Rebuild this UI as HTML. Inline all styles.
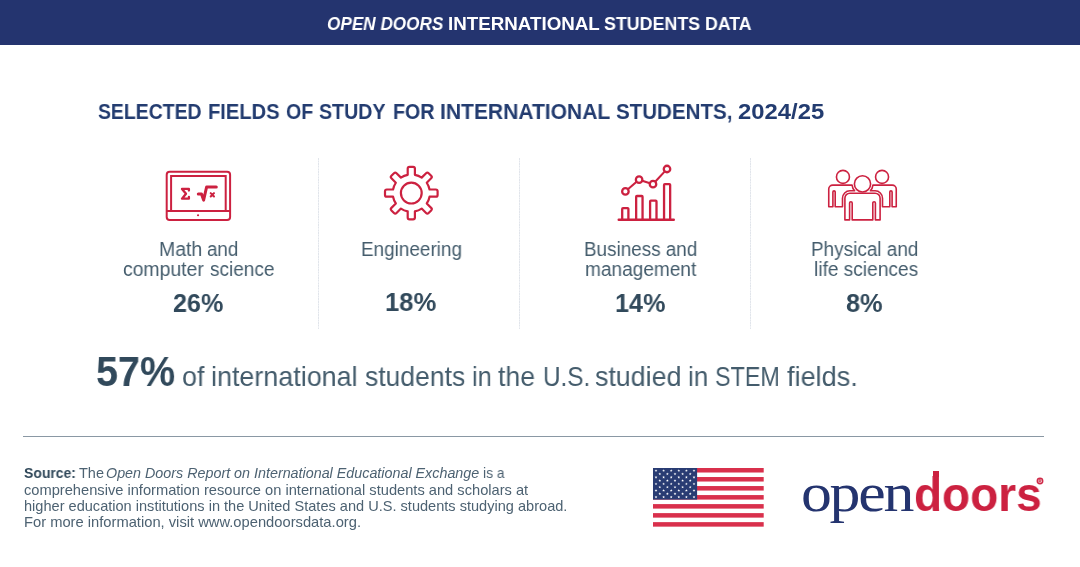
<!DOCTYPE html>
<html>
<head>
<meta charset="utf-8">
<title>Open Doors International Students Data</title>
<style>
  html, body { margin: 0; padding: 0; }
  body {
    width: 1080px; height: 567px; overflow: hidden; position: relative;
    background: #ffffff;
    font-family: "Liberation Sans", sans-serif;
  }
  .abs { position: absolute; white-space: nowrap; }
  #hdr { left: 0; top: 0; width: 1080px; height: 44.5px; background: #24346f; }
  .div { position: absolute; top: 158px; height: 170.5px; width: 1.4px; margin-left: -0.7px; background: repeating-linear-gradient(to bottom, #e1e5eb 0, #e1e5eb 1.5px, #eef0f4 1.5px, #eef0f4 2.65px); }
  #rule { left: 23px; top: 436px; width: 1020.8px; height: 1.3px; background: #8a98a4; }
  .t { position: absolute; white-space: nowrap; transform-origin: 0 0; will-change: transform; }
  svg { position: absolute; overflow: visible; }
</style>
</head>
<body>
  <div id="hdr" class="abs"></div>
  <!-- TEXT-BEGIN -->
  <div class="t" id="h1" style="left:326.62px;top:12.50px;font-size:18.3px;line-height:21.96px;font-weight:700;font-style:italic;color:#ffffff;transform:scaleX(0.9387)">OPEN DOORS</div>
  <div class="t" id="h2" style="left:447.58px;top:12.50px;font-size:18.3px;line-height:21.96px;font-weight:700;font-style:normal;color:#ffffff;transform:scaleX(1.0262)">INTERNATIONAL</div>
  <div class="t" id="h3" style="left:604.24px;top:12.50px;font-size:18.3px;line-height:21.96px;font-weight:700;font-style:normal;color:#ffffff;transform:scaleX(0.9756)">STUDENTS</div>
  <div class="t" id="h4" style="left:705.15px;top:12.50px;font-size:18.3px;line-height:21.96px;font-weight:700;font-style:normal;color:#ffffff;transform:scaleX(0.9694)">DATA</div>
  <div class="t" id="t1" style="left:97.54px;top:98.60px;font-size:22.3px;line-height:26.76px;font-weight:700;font-style:normal;color:#233c70;transform:scaleX(0.8707)">SELECTED</div>
  <div class="t" id="t2" style="left:207.84px;top:98.60px;font-size:22.3px;line-height:26.76px;font-weight:700;font-style:normal;color:#233c70;transform:scaleX(0.9022)">FIELDS</div>
  <div class="t" id="t3" style="left:286.06px;top:98.60px;font-size:22.3px;line-height:26.76px;font-weight:700;font-style:normal;color:#233c70;transform:scaleX(0.8820)">OF</div>
  <div class="t" id="t4" style="left:319.03px;top:98.60px;font-size:22.3px;line-height:26.76px;font-weight:700;font-style:normal;color:#233c70;transform:scaleX(0.8800)">STUDY</div>
  <div class="t" id="t5" style="left:393.47px;top:98.60px;font-size:22.3px;line-height:26.76px;font-weight:700;font-style:normal;color:#233c70;transform:scaleX(0.8817)">FOR</div>
  <div class="t" id="t6" style="left:440.48px;top:98.60px;font-size:22.3px;line-height:26.76px;font-weight:700;font-style:normal;color:#233c70;transform:scaleX(0.9437)">INTERNATIONAL</div>
  <div class="t" id="t7" style="left:616.30px;top:98.60px;font-size:22.3px;line-height:26.76px;font-weight:700;font-style:normal;color:#233c70;transform:scaleX(0.9212)">STUDENTS,</div>
  <div class="t" id="t8" style="left:738.49px;top:98.60px;font-size:22.3px;line-height:26.76px;font-weight:700;font-style:normal;color:#233c70;transform:scaleX(1.0688)">2024/25</div>
  <div class="t" id="l1a" style="left:158.59px;top:236.80px;font-size:20px;line-height:24.00px;font-weight:400;font-style:normal;color:#445c6c;transform:scaleX(0.9742)">Math</div>
  <div class="t" id="l1b" style="left:206.64px;top:236.80px;font-size:20px;line-height:24.00px;font-weight:400;font-style:normal;color:#445c6c;transform:scaleX(0.9389)">and</div>
  <div class="t" id="l1c" style="left:122.93px;top:256.90px;font-size:20px;line-height:24.00px;font-weight:400;font-style:normal;color:#445c6c;transform:scaleX(0.9692)">computer</div>
  <div class="t" id="l1d" style="left:209.50px;top:256.90px;font-size:20px;line-height:24.00px;font-weight:400;font-style:normal;color:#445c6c;transform:scaleX(0.9498)">science</div>
  <div class="t" id="l2" style="left:361.04px;top:236.80px;font-size:20px;line-height:24.00px;font-weight:400;font-style:normal;color:#445c6c;transform:scaleX(0.9454)">Engineering</div>
  <div class="t" id="l3a" style="left:583.64px;top:236.80px;font-size:20px;line-height:24.00px;font-weight:400;font-style:normal;color:#445c6c;transform:scaleX(0.9432)">Business and</div>
  <div class="t" id="l3b" style="left:584.56px;top:256.90px;font-size:20px;line-height:24.00px;font-weight:400;font-style:normal;color:#445c6c;transform:scaleX(0.9529)">management</div>
  <div class="t" id="l4a" style="left:811.23px;top:236.80px;font-size:20px;line-height:24.00px;font-weight:400;font-style:normal;color:#445c6c;transform:scaleX(0.9469)">Physical and</div>
  <div class="t" id="l4b" style="left:813.90px;top:256.90px;font-size:20px;line-height:24.00px;font-weight:400;font-style:normal;color:#445c6c;transform:scaleX(0.9563)">life sciences</div>
  <div class="t" id="p1" style="left:173.22px;top:288.00px;font-size:26.2px;line-height:31.44px;font-weight:700;font-style:normal;color:#31495b;transform:scaleX(0.9584)">26%</div>
  <div class="t" id="p2" style="left:385.18px;top:286.80px;font-size:26.2px;line-height:31.44px;font-weight:700;font-style:normal;color:#31495b;transform:scaleX(0.9764)">18%</div>
  <div class="t" id="p3" style="left:614.81px;top:288.00px;font-size:26.2px;line-height:31.44px;font-weight:700;font-style:normal;color:#31495b;transform:scaleX(0.9605)">14%</div>
  <div class="t" id="p4" style="left:846.24px;top:288.00px;font-size:26.2px;line-height:31.44px;font-weight:700;font-style:normal;color:#31495b;transform:scaleX(0.9661)">8%</div>
  <div class="t" id="b0" style="left:95.53px;top:347.00px;font-size:42px;line-height:50.40px;font-weight:700;font-style:normal;color:#31495b;transform:scaleX(0.9411)">57%</div>
  <div class="t" id="b1" style="left:181.77px;top:360.00px;font-size:27.8px;line-height:33.36px;font-weight:400;font-style:normal;color:#445c6c;transform:scaleX(0.9682)">of</div>
  <div class="t" id="b2" style="left:210.76px;top:360.00px;font-size:27.8px;line-height:33.36px;font-weight:400;font-style:normal;color:#445c6c;transform:scaleX(0.9679)">international</div>
  <div class="t" id="b3" style="left:364.52px;top:360.00px;font-size:27.8px;line-height:33.36px;font-weight:400;font-style:normal;color:#445c6c;transform:scaleX(0.9532)">students</div>
  <div class="t" id="b4" style="left:472.26px;top:360.00px;font-size:27.8px;line-height:33.36px;font-weight:400;font-style:normal;color:#445c6c;transform:scaleX(0.9105)">in</div>
  <div class="t" id="b5" style="left:498.45px;top:360.00px;font-size:27.8px;line-height:33.36px;font-weight:400;font-style:normal;color:#445c6c;transform:scaleX(0.9577)">the</div>
  <div class="t" id="b6" style="left:542.76px;top:360.00px;font-size:27.8px;line-height:33.36px;font-weight:400;font-style:normal;color:#445c6c;transform:scaleX(0.8743)">U.S.</div>
  <div class="t" id="b7" style="left:595.42px;top:360.00px;font-size:27.8px;line-height:33.36px;font-weight:400;font-style:normal;color:#445c6c;transform:scaleX(0.9638)">studied</div>
  <div class="t" id="b8" style="left:688.22px;top:360.00px;font-size:27.8px;line-height:33.36px;font-weight:400;font-style:normal;color:#445c6c;transform:scaleX(0.9323)">in</div>
  <div class="t" id="b9" style="left:715.33px;top:360.00px;font-size:27.8px;line-height:33.36px;font-weight:400;font-style:normal;color:#445c6c;transform:scaleX(0.8399)">STEM</div>
  <div class="t" id="b10" style="left:787.47px;top:360.00px;font-size:27.8px;line-height:33.36px;font-weight:400;font-style:normal;color:#445c6c;transform:scaleX(0.9746)">fields.</div>
  <div class="t" id="s1a" style="left:24.08px;top:465.10px;font-size:14.2px;line-height:17.04px;font-weight:700;font-style:normal;color:#31495b;transform:scaleX(0.9837)">Source:</div>
  <div class="t" id="s1b" style="left:79.04px;top:465.10px;font-size:14.2px;line-height:17.04px;font-weight:400;font-style:normal;color:#4d6272;transform:scaleX(1.0203)">The</div>
  <div class="t" id="s1c" style="left:106.45px;top:465.10px;font-size:14.2px;line-height:17.04px;font-weight:400;font-style:italic;color:#4d6272;transform:scaleX(1.0090)">Open Doors Report on International Educational Exchange</div>
  <div class="t" id="s1d" style="left:483.08px;top:465.10px;font-size:14.2px;line-height:17.04px;font-weight:400;font-style:normal;color:#4d6272;transform:scaleX(0.9712)">is a</div>
  <div class="t" id="s2" style="left:23.57px;top:482.00px;font-size:14.2px;line-height:17.04px;font-weight:400;font-style:normal;color:#4d6272;transform:scaleX(1.0328)">comprehensive information resource on international students and scholars at</div>
  <div class="t" id="s3" style="left:23.67px;top:497.50px;font-size:14.2px;line-height:17.04px;font-weight:400;font-style:normal;color:#4d6272;transform:scaleX(1.0268)">higher education institutions in the United States and U.S. students studying abroad.</div>
  <div class="t" id="s4" style="left:23.61px;top:513.70px;font-size:14.2px;line-height:17.04px;font-weight:400;font-style:normal;color:#4d6272;transform:scaleX(1.0373)">For more information, visit www.opendoorsdata.org.</div>
  <div class="t" id="lg1" style="font-family:&quot;Liberation Serif&quot;,serif;left:801.20px;top:461.30px;font-size:54px;line-height:64.80px;font-weight:400;font-style:normal;color:#24346f;transform:scaleX(1.1447)"><span style="letter-spacing:-2px">ope</span>n</div>
  <div class="t" id="lg2" style="left:913.97px;top:466.30px;font-size:48px;line-height:57.60px;font-weight:700;font-style:normal;color:#cc2140;transform:scaleX(0.9567)">doors</div>
  <!-- TEXT-END -->

  <div class="div" style="left:318.4px"></div>
  <div class="div" style="left:519.2px"></div>
  <div class="div" style="left:750.3px"></div>

  <!-- ICONS -->
  <svg id="icons" width="1080" height="567" viewBox="0 0 1080 567" style="left:0;top:0" fill="none" stroke="#cc2140" stroke-width="2">
    <!-- monitor -->
    <g id="ic-monitor">
      <rect x="166.7" y="171.8" width="63.4" height="48.3" rx="3" ry="3" stroke-width="2"/>
      <path d="M171.1,211 V175.9 H225.7 V211" stroke-width="2"/>
      <line x1="166.7" y1="211" x2="230.1" y2="211" stroke-width="2"/>
      <circle cx="198.05" cy="215.25" r="1.1" fill="#cc2140" stroke="none"/>
      <path d="M188.9,190.6 V188.9 H182.0 L186.0,193.8 L182.0,198.7 H188.9 V197.0" stroke-width="2.3" stroke-linejoin="round" stroke-linecap="round"/>
      <path d="M198.3,194.1 H201.5 L203.6,200.1 L206.6,187.0 H216.3" stroke-width="3" stroke-linecap="round" stroke-linejoin="round"/>
      <path d="M210.7,193.1 L214.0,196.5 M214.0,193.1 L210.7,196.5" stroke-width="2" stroke-linecap="round"/>
    </g>
    <!-- gear -->
    <g id="ic-gear">
      <path d="M407.70,174.85 L407.70,168.60 Q407.70,166.80 409.50,166.80 L413.10,166.80 Q414.90,166.80 414.90,168.60 L414.90,174.85 A18.60,18.60 0 0 1 421.66,177.65 L426.08,173.23 Q427.35,171.96 428.62,173.23 L431.17,175.78 Q432.44,177.05 431.17,178.32 L426.75,182.74 A18.60,18.60 0 0 1 429.55,189.50 L435.80,189.50 Q437.60,189.50 437.60,191.30 L437.60,194.90 Q437.60,196.70 435.80,196.70 L429.55,196.70 A18.60,18.60 0 0 1 426.75,203.46 L431.17,207.88 Q432.44,209.15 431.17,210.42 L428.62,212.97 Q427.35,214.24 426.08,212.97 L421.66,208.55 A18.60,18.60 0 0 1 414.90,211.35 L414.90,217.60 Q414.90,219.40 413.10,219.40 L409.50,219.40 Q407.70,219.40 407.70,217.60 L407.70,211.35 A18.60,18.60 0 0 1 400.94,208.55 L396.52,212.97 Q395.25,214.24 393.98,212.97 L391.43,210.42 Q390.16,209.15 391.43,207.88 L395.85,203.46 A18.60,18.60 0 0 1 393.05,196.70 L386.80,196.70 Q385.00,196.70 385.00,194.90 L385.00,191.30 Q385.00,189.50 386.80,189.50 L393.05,189.50 A18.60,18.60 0 0 1 395.85,182.74 L391.43,178.32 Q390.16,177.05 391.43,175.78 L393.98,173.23 Q395.25,171.96 396.52,173.23 L400.94,177.65 A18.60,18.60 0 0 1 407.70,174.85 Z" stroke-linejoin="round" stroke-width="2.2"/>
      <circle cx="411.3" cy="193.1" r="10.4" stroke-width="2.2"/>
    </g>
    <!-- chart -->
    <g id="ic-chart" stroke-width="2.3" stroke-linejoin="round">
      <line x1="618.7" y1="219.8" x2="673.8" y2="219.8" stroke-width="2.4" stroke-linecap="round"/>
      <path d="M622.2,219.7 V209 a0.8,0.8 0 0 1 0.8,-0.8 H627.6 a0.8,0.8 0 0 1 0.8,0.8 V219.7"/>
      <path d="M636.15,219.7 V196.8 a0.8,0.8 0 0 1 0.8,-0.8 H641.75 a0.8,0.8 0 0 1 0.8,0.8 V219.7"/>
      <path d="M650.1,219.7 V201.5 a0.8,0.8 0 0 1 0.8,-0.8 H655.7 a0.8,0.8 0 0 1 0.8,0.8 V219.7"/>
      <path d="M664.05,219.7 V185 a0.8,0.8 0 0 1 0.8,-0.8 H669.35 a0.8,0.8 0 0 1 0.8,0.8 V219.7"/>
      <circle cx="625.4" cy="191.4" r="3.25"/>
      <circle cx="639.1" cy="179.7" r="3.25"/>
      <circle cx="653.0" cy="184.2" r="3.25"/>
      <circle cx="667.0" cy="169.0" r="3.25"/>
      <line x1="627.9" y1="189.3" x2="636.6" y2="181.8" stroke-width="2.1"/>
      <line x1="642.2" y1="180.7" x2="649.9" y2="183.2" stroke-width="2.1"/>
      <line x1="655.2" y1="181.8" x2="664.8" y2="171.4" stroke-width="2.1"/>
    </g>
    <!-- people -->
    <g id="ic-people" stroke-width="1.6" stroke-linejoin="round">
      <circle cx="862.5" cy="183.9" r="8.1"/>
      <path d="M844.9,219.9 V198.2 A5,5 0 0 1 849.9,193.2 H875.1 A5,5 0 0 1 880.1,198.2 V219.9 H875.4 V203.0 A1.2999999999999998,1.2999999999999998 0 0 0 872.8,203.0 V219.9 H852.2 V203.0 A1.2999999999999998,1.2999999999999998 0 0 0 849.6,203.0 V219.9 Z"/>
      <circle cx="842.95" cy="176.9" r="6.5"/>
      <circle cx="882.05" cy="176.9" r="6.5"/>
      <path d="M828.75,206.7 V189.1 A4,4 0 0 1 832.75,185.1 H852.07 A10.5,10.5 0 0 0 854.59,190.8 H849.90 A7.4,7.4 0 0 0 842.50,198.20000000000002 V206.7 H835.20 V192.0 A1.15,1.15 0 0 0 832.90,192.0 V206.7 Z"/>
      <path d="M896.25,206.7 V189.1 A4,4 0 0 0 892.25,185.1 H872.93 A10.5,10.5 0 0 1 870.41,190.8 H875.10 A7.4,7.4 0 0 1 882.50,198.20000000000002 V206.7 H889.80 V192.0 A1.15,1.15 0 0 1 892.10,192.0 V206.7 Z"/>
    </g>
  </svg>

  <div id="rule" class="abs"></div>

  <!-- FLAG -->
  <svg id="flag" width="111" height="59" viewBox="0 0 111 59" style="left:653px; top:468px">
    <rect x="0" y="0" width="110.7" height="58.65" fill="#ffffff"/>
    <rect x="0" y="0.000" width="110.7" height="4.512" fill="#d9304c"/>
    <rect x="0" y="9.023" width="110.7" height="4.512" fill="#d9304c"/>
    <rect x="0" y="18.046" width="110.7" height="4.512" fill="#d9304c"/>
    <rect x="0" y="27.069" width="110.7" height="4.512" fill="#d9304c"/>
    <rect x="0" y="36.092" width="110.7" height="4.512" fill="#d9304c"/>
    <rect x="0" y="45.115" width="110.7" height="4.512" fill="#d9304c"/>
    <rect x="0" y="54.138" width="110.7" height="4.512" fill="#d9304c"/>
    <rect x="0" y="0" width="44.1" height="31.581" fill="#293c73"/>
    <polygon points="3.00,1.25 3.36,2.21 4.38,2.25 3.58,2.89 3.85,3.87 3.00,3.31 2.15,3.87 2.42,2.89 1.62,2.25 2.64,2.21" fill="#ffffff"/>
    <polygon points="10.60,1.25 10.96,2.21 11.98,2.25 11.18,2.89 11.45,3.87 10.60,3.31 9.75,3.87 10.02,2.89 9.22,2.25 10.24,2.21" fill="#ffffff"/>
    <polygon points="18.20,1.25 18.56,2.21 19.58,2.25 18.78,2.89 19.05,3.87 18.20,3.31 17.35,3.87 17.62,2.89 16.82,2.25 17.84,2.21" fill="#ffffff"/>
    <polygon points="25.80,1.25 26.16,2.21 27.18,2.25 26.38,2.89 26.65,3.87 25.80,3.31 24.95,3.87 25.22,2.89 24.42,2.25 25.44,2.21" fill="#ffffff"/>
    <polygon points="33.40,1.25 33.76,2.21 34.78,2.25 33.98,2.89 34.25,3.87 33.40,3.31 32.55,3.87 32.82,2.89 32.02,2.25 33.04,2.21" fill="#ffffff"/>
    <polygon points="41.00,1.25 41.36,2.21 42.38,2.25 41.58,2.89 41.85,3.87 41.00,3.31 40.15,3.87 40.42,2.89 39.62,2.25 40.64,2.21" fill="#ffffff"/>
    <polygon points="6.80,4.55 7.16,5.51 8.18,5.55 7.38,6.19 7.65,7.17 6.80,6.61 5.95,7.17 6.22,6.19 5.42,5.55 6.44,5.51" fill="#ffffff"/>
    <polygon points="14.40,4.55 14.76,5.51 15.78,5.55 14.98,6.19 15.25,7.17 14.40,6.61 13.55,7.17 13.82,6.19 13.02,5.55 14.04,5.51" fill="#ffffff"/>
    <polygon points="22.00,4.55 22.36,5.51 23.38,5.55 22.58,6.19 22.85,7.17 22.00,6.61 21.15,7.17 21.42,6.19 20.62,5.55 21.64,5.51" fill="#ffffff"/>
    <polygon points="29.60,4.55 29.96,5.51 30.98,5.55 30.18,6.19 30.45,7.17 29.60,6.61 28.75,7.17 29.02,6.19 28.22,5.55 29.24,5.51" fill="#ffffff"/>
    <polygon points="37.20,4.55 37.56,5.51 38.58,5.55 37.78,6.19 38.05,7.17 37.20,6.61 36.35,7.17 36.62,6.19 35.82,5.55 36.84,5.51" fill="#ffffff"/>
    <polygon points="3.00,7.85 3.36,8.81 4.38,8.85 3.58,9.49 3.85,10.47 3.00,9.91 2.15,10.47 2.42,9.49 1.62,8.85 2.64,8.81" fill="#ffffff"/>
    <polygon points="10.60,7.85 10.96,8.81 11.98,8.85 11.18,9.49 11.45,10.47 10.60,9.91 9.75,10.47 10.02,9.49 9.22,8.85 10.24,8.81" fill="#ffffff"/>
    <polygon points="18.20,7.85 18.56,8.81 19.58,8.85 18.78,9.49 19.05,10.47 18.20,9.91 17.35,10.47 17.62,9.49 16.82,8.85 17.84,8.81" fill="#ffffff"/>
    <polygon points="25.80,7.85 26.16,8.81 27.18,8.85 26.38,9.49 26.65,10.47 25.80,9.91 24.95,10.47 25.22,9.49 24.42,8.85 25.44,8.81" fill="#ffffff"/>
    <polygon points="33.40,7.85 33.76,8.81 34.78,8.85 33.98,9.49 34.25,10.47 33.40,9.91 32.55,10.47 32.82,9.49 32.02,8.85 33.04,8.81" fill="#ffffff"/>
    <polygon points="41.00,7.85 41.36,8.81 42.38,8.85 41.58,9.49 41.85,10.47 41.00,9.91 40.15,10.47 40.42,9.49 39.62,8.85 40.64,8.81" fill="#ffffff"/>
    <polygon points="6.80,11.15 7.16,12.11 8.18,12.15 7.38,12.79 7.65,13.77 6.80,13.21 5.95,13.77 6.22,12.79 5.42,12.15 6.44,12.11" fill="#ffffff"/>
    <polygon points="14.40,11.15 14.76,12.11 15.78,12.15 14.98,12.79 15.25,13.77 14.40,13.21 13.55,13.77 13.82,12.79 13.02,12.15 14.04,12.11" fill="#ffffff"/>
    <polygon points="22.00,11.15 22.36,12.11 23.38,12.15 22.58,12.79 22.85,13.77 22.00,13.21 21.15,13.77 21.42,12.79 20.62,12.15 21.64,12.11" fill="#ffffff"/>
    <polygon points="29.60,11.15 29.96,12.11 30.98,12.15 30.18,12.79 30.45,13.77 29.60,13.21 28.75,13.77 29.02,12.79 28.22,12.15 29.24,12.11" fill="#ffffff"/>
    <polygon points="37.20,11.15 37.56,12.11 38.58,12.15 37.78,12.79 38.05,13.77 37.20,13.21 36.35,13.77 36.62,12.79 35.82,12.15 36.84,12.11" fill="#ffffff"/>
    <polygon points="3.00,14.45 3.36,15.41 4.38,15.45 3.58,16.09 3.85,17.07 3.00,16.51 2.15,17.07 2.42,16.09 1.62,15.45 2.64,15.41" fill="#ffffff"/>
    <polygon points="10.60,14.45 10.96,15.41 11.98,15.45 11.18,16.09 11.45,17.07 10.60,16.51 9.75,17.07 10.02,16.09 9.22,15.45 10.24,15.41" fill="#ffffff"/>
    <polygon points="18.20,14.45 18.56,15.41 19.58,15.45 18.78,16.09 19.05,17.07 18.20,16.51 17.35,17.07 17.62,16.09 16.82,15.45 17.84,15.41" fill="#ffffff"/>
    <polygon points="25.80,14.45 26.16,15.41 27.18,15.45 26.38,16.09 26.65,17.07 25.80,16.51 24.95,17.07 25.22,16.09 24.42,15.45 25.44,15.41" fill="#ffffff"/>
    <polygon points="33.40,14.45 33.76,15.41 34.78,15.45 33.98,16.09 34.25,17.07 33.40,16.51 32.55,17.07 32.82,16.09 32.02,15.45 33.04,15.41" fill="#ffffff"/>
    <polygon points="41.00,14.45 41.36,15.41 42.38,15.45 41.58,16.09 41.85,17.07 41.00,16.51 40.15,17.07 40.42,16.09 39.62,15.45 40.64,15.41" fill="#ffffff"/>
    <polygon points="6.80,17.75 7.16,18.71 8.18,18.75 7.38,19.39 7.65,20.37 6.80,19.81 5.95,20.37 6.22,19.39 5.42,18.75 6.44,18.71" fill="#ffffff"/>
    <polygon points="14.40,17.75 14.76,18.71 15.78,18.75 14.98,19.39 15.25,20.37 14.40,19.81 13.55,20.37 13.82,19.39 13.02,18.75 14.04,18.71" fill="#ffffff"/>
    <polygon points="22.00,17.75 22.36,18.71 23.38,18.75 22.58,19.39 22.85,20.37 22.00,19.81 21.15,20.37 21.42,19.39 20.62,18.75 21.64,18.71" fill="#ffffff"/>
    <polygon points="29.60,17.75 29.96,18.71 30.98,18.75 30.18,19.39 30.45,20.37 29.60,19.81 28.75,20.37 29.02,19.39 28.22,18.75 29.24,18.71" fill="#ffffff"/>
    <polygon points="37.20,17.75 37.56,18.71 38.58,18.75 37.78,19.39 38.05,20.37 37.20,19.81 36.35,20.37 36.62,19.39 35.82,18.75 36.84,18.71" fill="#ffffff"/>
    <polygon points="3.00,21.05 3.36,22.01 4.38,22.05 3.58,22.69 3.85,23.67 3.00,23.11 2.15,23.67 2.42,22.69 1.62,22.05 2.64,22.01" fill="#ffffff"/>
    <polygon points="10.60,21.05 10.96,22.01 11.98,22.05 11.18,22.69 11.45,23.67 10.60,23.11 9.75,23.67 10.02,22.69 9.22,22.05 10.24,22.01" fill="#ffffff"/>
    <polygon points="18.20,21.05 18.56,22.01 19.58,22.05 18.78,22.69 19.05,23.67 18.20,23.11 17.35,23.67 17.62,22.69 16.82,22.05 17.84,22.01" fill="#ffffff"/>
    <polygon points="25.80,21.05 26.16,22.01 27.18,22.05 26.38,22.69 26.65,23.67 25.80,23.11 24.95,23.67 25.22,22.69 24.42,22.05 25.44,22.01" fill="#ffffff"/>
    <polygon points="33.40,21.05 33.76,22.01 34.78,22.05 33.98,22.69 34.25,23.67 33.40,23.11 32.55,23.67 32.82,22.69 32.02,22.05 33.04,22.01" fill="#ffffff"/>
    <polygon points="41.00,21.05 41.36,22.01 42.38,22.05 41.58,22.69 41.85,23.67 41.00,23.11 40.15,23.67 40.42,22.69 39.62,22.05 40.64,22.01" fill="#ffffff"/>
    <polygon points="6.80,24.35 7.16,25.31 8.18,25.35 7.38,25.99 7.65,26.97 6.80,26.41 5.95,26.97 6.22,25.99 5.42,25.35 6.44,25.31" fill="#ffffff"/>
    <polygon points="14.40,24.35 14.76,25.31 15.78,25.35 14.98,25.99 15.25,26.97 14.40,26.41 13.55,26.97 13.82,25.99 13.02,25.35 14.04,25.31" fill="#ffffff"/>
    <polygon points="22.00,24.35 22.36,25.31 23.38,25.35 22.58,25.99 22.85,26.97 22.00,26.41 21.15,26.97 21.42,25.99 20.62,25.35 21.64,25.31" fill="#ffffff"/>
    <polygon points="29.60,24.35 29.96,25.31 30.98,25.35 30.18,25.99 30.45,26.97 29.60,26.41 28.75,26.97 29.02,25.99 28.22,25.35 29.24,25.31" fill="#ffffff"/>
    <polygon points="37.20,24.35 37.56,25.31 38.58,25.35 37.78,25.99 38.05,26.97 37.20,26.41 36.35,26.97 36.62,25.99 35.82,25.35 36.84,25.31" fill="#ffffff"/>
    <polygon points="3.00,27.65 3.36,28.61 4.38,28.65 3.58,29.29 3.85,30.27 3.00,29.71 2.15,30.27 2.42,29.29 1.62,28.65 2.64,28.61" fill="#ffffff"/>
    <polygon points="10.60,27.65 10.96,28.61 11.98,28.65 11.18,29.29 11.45,30.27 10.60,29.71 9.75,30.27 10.02,29.29 9.22,28.65 10.24,28.61" fill="#ffffff"/>
    <polygon points="18.20,27.65 18.56,28.61 19.58,28.65 18.78,29.29 19.05,30.27 18.20,29.71 17.35,30.27 17.62,29.29 16.82,28.65 17.84,28.61" fill="#ffffff"/>
    <polygon points="25.80,27.65 26.16,28.61 27.18,28.65 26.38,29.29 26.65,30.27 25.80,29.71 24.95,30.27 25.22,29.29 24.42,28.65 25.44,28.61" fill="#ffffff"/>
    <polygon points="33.40,27.65 33.76,28.61 34.78,28.65 33.98,29.29 34.25,30.27 33.40,29.71 32.55,30.27 32.82,29.29 32.02,28.65 33.04,28.61" fill="#ffffff"/>
    <polygon points="41.00,27.65 41.36,28.61 42.38,28.65 41.58,29.29 41.85,30.27 41.00,29.71 40.15,30.27 40.42,29.29 39.62,28.65 40.64,28.61" fill="#ffffff"/>
  </svg>

  <!-- LOGO -->
    <div id="dstem" class="abs" style="left:932.5px; top:471.3px; width:6.4px; height:6px; background:#cc2140;"></div>
  <svg id="logo-r" width="10" height="10" viewBox="0 0 10 10" style="left:1035px; top:475.8px">
    <circle cx="5" cy="5" r="2.75" fill="#f3c9d1" stroke="#cf2b49" stroke-width="1.4"/>
    <path d="M4.1,6.5 V3.6 H5.1 a0.8,0.8 0 0 1 0,1.6 H4.1 M5.1,5.2 L6,6.5" fill="none" stroke="#cf2b49" stroke-width="0.8"/>
  </svg>
</body>
</html>
